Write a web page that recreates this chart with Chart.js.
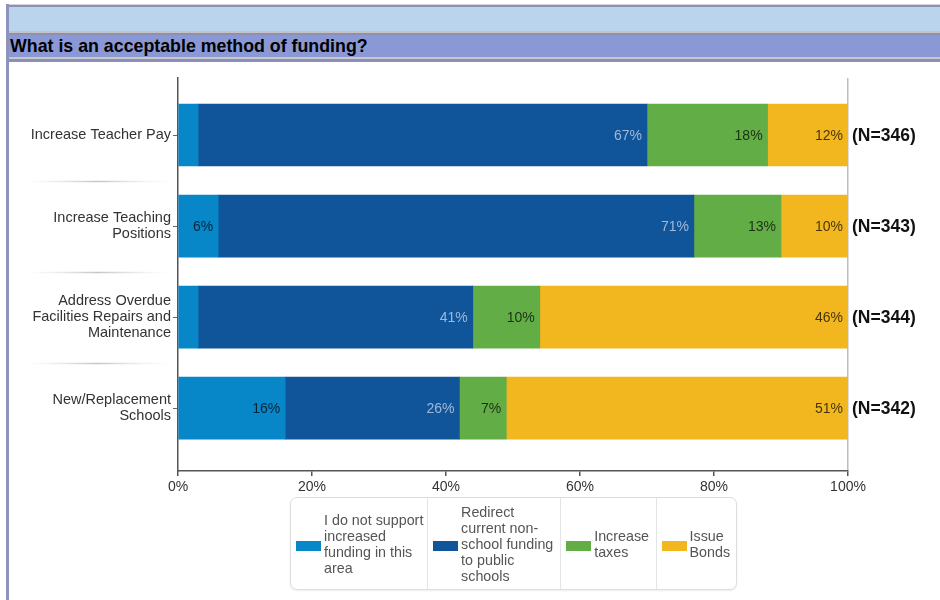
<!DOCTYPE html>
<html>
<head>
<meta charset="utf-8">
<script src="https://cdn.jsdelivr.net/npm/chart.js@4"></script>
<style>
  body { margin: 0; background: #fff; font-family: "Liberation Sans", Arial, sans-serif; }
  #frame { position: absolute; left: 6px; top: 4px; width: 931px; height: 596px;
           border-left: 3px solid #8e93bb; }
  .ln { height: 2px; }
  #band1 { height: 24px; background: #bad4ee; }
  #band2 { height: 22px; background: #8a99d6; font-weight: bold; font-size: 17.8px;
           line-height: 23px; padding-left: 1px; color: #000; white-space: nowrap; }
  #wrap { position: absolute; left: 9px; top: 62px; }
  #legend { position: absolute; left: 290px; top: 497px; width: 445px; height: 91px;
            border: 1px solid #dedede; border-radius: 7px; box-shadow: 0 1px 2px rgba(0,0,0,.08);
            display: flex; background: #fff; }
  .cell { display: flex; align-items: center; border-right: 1px solid #e4e4e4; white-space: nowrap;
          font-size: 14.3px; line-height: 16px; color: #555; }
  .cell:last-child { border-right: none; }
  .sw { width: 25px; height: 10px; margin: 4px 3px 0 5px; flex: none; }
</style>
</head>
<body>
<div id="frame">
  <div class="ln" style="height:1px;background:#d4d4d4"></div>
  <div class="ln" style="background:#8c90b8"></div>
  <div id="band1"></div>
  <div class="ln" style="background:#c4c4c4"></div>
  <div class="ln" style="background:#8c90b8"></div>
  <div id="band2">What is an acceptable method of funding?</div>
  <div class="ln" style="background:#c8c8c8"></div>
  <div class="ln" style="height:3px;background:#8c90b8"></div>
</div>
<div id="wrap"><canvas id="grafico" width="931" height="538"></canvas></div>
<div id="legend">
  <div class="cell" style="width:137px"><span class="sw" style="background:#0786c8"></span><span>I do not support<br>increased<br>funding in this<br>area</span></div>
  <div class="cell" style="width:133px"><span class="sw" style="background:#10559a"></span><span>Redirect<br>current non-<br>school funding<br>to public<br>schools</span></div>
  <div class="cell" style="width:95px"><span class="sw" style="background:#63ad47"></span><span>Increase<br>taxes</span></div>
  <div class="cell" style="width:80px"><span class="sw" style="background:#f2b71e"></span><span>Issue<br>Bonds</span></div>
</div>
<script>
const categorias = [
  ['Increase Teacher Pay'],
  ['Increase Teaching', 'Positions'],
  ['Address Overdue', 'Facilities Repairs and', 'Maintenance'],
  ['New/Replacement', 'Schools']
]
const naoApoia = [3, 6, 3, 16]
const redirecionar = [67, 71, 41, 26]
const impostos = [18, 13, 10, 7]
const titulos = [12, 10, 46, 51]
const respostas = [346, 343, 344, 342]
const ticksX = [0, 20, 40, 60, 80, 100]

const fonte = '"Liberation Sans", Arial, sans-serif'

// cada barra fica na posição do índice da categoria (eixo y linear)
function pontos(valores) {
  return valores.map((v, i) => ({ x: v, y: i }))
}

const dataGrafico = {
  datasets: [
    { label: 'I do not support increased funding in this area', data: pontos(naoApoia), backgroundColor: '#0786c8' },
    { label: 'Redirect current non-school funding to public schools', data: pontos(redirecionar), backgroundColor: '#10559a' },
    { label: 'Increase taxes', data: pontos(impostos), backgroundColor: '#63ad47' },
    { label: 'Issue Bonds', data: pontos(titulos), backgroundColor: '#f2b71e' }
  ]
}

// linhas cinzas entre as categorias, à esquerda do eixo
const separadores = {
  id: 'separadores',
  afterDraw(chart) {
    const ctx = chart.ctx
    const y = chart.scales.y
    ctx.save()
    for (let i = 0; i < categorias.length - 1; i++) {
      const py = Math.round(y.getPixelForValue(i + 0.5)) + 0.5
      const grad = ctx.createLinearGradient(16, 0, 161, 0)
      grad.addColorStop(0, 'rgba(200,200,200,0)')
      grad.addColorStop(0.5, 'rgba(150,150,150,0.55)')
      grad.addColorStop(1, 'rgba(200,200,200,0)')
      ctx.strokeStyle = grad
      ctx.lineWidth = 1.5
      ctx.beginPath()
      ctx.moveTo(16, py)
      ctx.lineTo(161, py)
      ctx.stroke()
    }
    ctx.restore()
  }
}

// porcentagens dentro das barras e o N de cada pergunta
const rotulos = {
  id: 'rotulos',
  afterDatasetsDraw(chart) {
    const ctx = chart.ctx
    ctx.save()
    ctx.font = '14px ' + fonte
    ctx.textAlign = 'right'
    ctx.textBaseline = 'middle'
    chart.data.datasets.forEach((ds, di) => {
      chart.getDatasetMeta(di).data.forEach((bar, i) => {
        const v = ds.data[i].x
        if (v < 5) return
        ctx.fillStyle = di === 1 ? '#a3b8d6' : 'rgba(0,0,0,0.72)'
        ctx.fillText(v + '%', bar.x - 5, bar.y + 1)
      })
    })
    ctx.font = 'bold 17.5px ' + fonte
    ctx.textAlign = 'left'
    ctx.fillStyle = '#111'
    const meta = chart.getDatasetMeta(0)
    meta.data.forEach((bar, i) => {
      ctx.fillText('(N=' + respostas[i] + ')', chart.chartArea.right + 4, bar.y + 1)
    })
    ctx.restore()
  }
}

new Chart(document.getElementById('grafico'), {
  type: 'bar',
  data: dataGrafico,
  plugins: [separadores, rotulos],
  options: {
    indexAxis: 'y',
    responsive: false,
    animation: false,
    layout: { padding: { top: 16, right: 92, bottom: 104, left: 0 } },
    datasets: { bar: { barThickness: 62 } },
    plugins: { legend: { display: false }, tooltip: { enabled: false } },
    scales: {
      x: {
        stacked: true,
        min: 0,
        max: 100,
        afterBuildTicks: (scale) => { scale.ticks = ticksX.map(v => ({ value: v })) },
        afterFit: (scale) => { scale.height = 25; scale.paddingLeft = 0; scale.paddingRight = 0 },
        ticks: { callback: (v) => v + '%', color: '#333', font: { family: fonte, size: 14 }, padding: 3 },
        grid: {
          color: (c) => c.tick && c.tick.value === 100 ? '#bdbdbd' : 'rgba(0,0,0,0)',
          tickColor: '#555',
          tickLength: 5,
          lineWidth: 1.5
        },
        border: { color: '#555', width: 1.5 }
      },
      y: {
        type: 'linear',
        stacked: true,
        reverse: true,
        offset: false,
        min: -0.626,
        max: 3.69,
        afterBuildTicks: (scale) => { scale.ticks = categorias.map((c, i) => ({ value: i })) },
        afterFit: (scale) => { scale.width = 169; scale.paddingTop = 0; scale.paddingBottom = 0 },
        ticks: {
          autoSkip: false,
          callback: (v) => categorias[v],
          color: '#333',
          font: { family: fonte, size: 14.5, lineHeight: 1.1 },
          padding: 2
        },
        grid: { offset: false, drawOnChartArea: false, tickColor: '#666', tickLength: 5 },
        border: { color: '#555', width: 1.5 }
      }
    }
  }
})
</script>
</body>
</html>
